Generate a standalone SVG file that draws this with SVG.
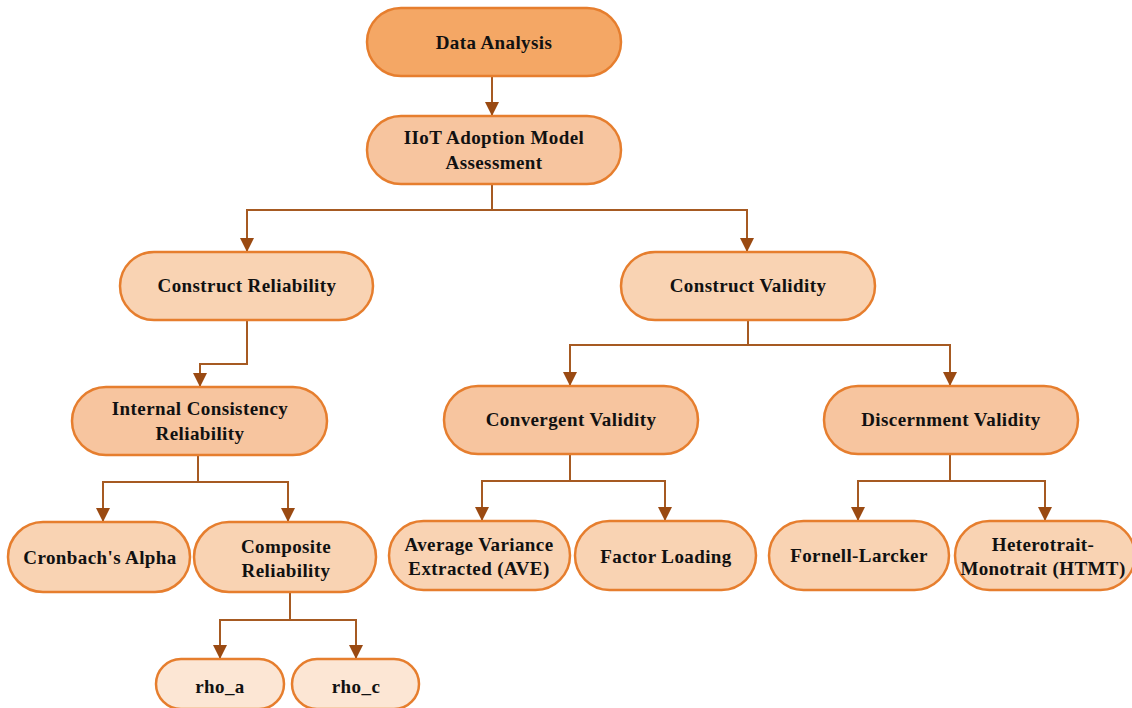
<svg xmlns="http://www.w3.org/2000/svg" width="1132" height="708" viewBox="0 0 1132 708">
<defs>
<marker id="ah" markerWidth="14" markerHeight="15" refX="13" refY="7" orient="auto" markerUnits="userSpaceOnUse" viewBox="0 0 14 14">
<path d="M0,0 L14,7 L0,14 z" fill="#9A4A12"/>
</marker>
<style>
.n rect{stroke:#E67E2E;stroke-width:2.5}
.l1 rect{fill:#F4A765}
.l2 rect{fill:#F7C59F}
.l3 rect{fill:#F9D3B3}
.l4 rect{fill:#FCE6D4}
.n text{font-family:"Liberation Serif","Times New Roman",serif;font-weight:bold;font-size:19px;letter-spacing:0.4px;fill:#111;text-anchor:middle}
.c path{fill:none;stroke:#A65A22;stroke-width:2}
</style>
</defs>
<rect width="1132" height="708" fill="#fff"/>
<g class="c">
<path d="M492,76 V115" marker-end="url(#ah)"/>
<path d="M492,184 V210 H247 V251" marker-end="url(#ah)"/>
<path d="M492,210 H747 V251" marker-end="url(#ah)"/>
<path d="M247,320 V364 H200 V386" marker-end="url(#ah)"/>
<path d="M198,455 V482 H103 V521" marker-end="url(#ah)"/>
<path d="M198,482 H288 V521" marker-end="url(#ah)"/>
<path d="M290,592 V620 H220 V658" marker-end="url(#ah)"/>
<path d="M290,620 H356 V658" marker-end="url(#ah)"/>
<path d="M748,320 V345 H570 V385" marker-end="url(#ah)"/>
<path d="M748,345 H950 V385" marker-end="url(#ah)"/>
<path d="M570,454 V481 H482 V520" marker-end="url(#ah)"/>
<path d="M570,481 H665 V520" marker-end="url(#ah)"/>
<path d="M950,454 V481 H858 V520" marker-end="url(#ah)"/>
<path d="M950,481 H1045 V520" marker-end="url(#ah)"/>
</g>
<g id="data-analysis" class="n l1"><rect x="367" y="8" width="254" height="68" rx="34"/><text x="494" y="49">Data Analysis</text></g>
<g id="iiot" class="n l2"><rect x="367" y="116" width="254" height="68" rx="34"/><text x="494" y="144">IIoT Adoption Model</text><text x="494" y="169">Assessment</text></g>
<g id="construct-reliability" class="n l3"><rect x="120" y="252" width="253" height="68" rx="34"/><text x="247" y="292">Construct Reliability</text></g>
<g id="construct-validity" class="n l3"><rect x="621" y="252" width="254" height="68" rx="34"/><text x="748" y="292">Construct Validity</text></g>
<g id="internal-consistency" class="n l2"><rect x="72" y="387" width="255" height="68" rx="34"/><text x="200" y="415">Internal Consistency</text><text x="200" y="440">Reliability</text></g>
<g id="convergent" class="n l2"><rect x="444" y="386" width="254" height="68" rx="34"/><text x="571" y="426">Convergent Validity</text></g>
<g id="discernment" class="n l2"><rect x="824" y="386" width="254" height="68" rx="34"/><text x="951" y="426">Discernment Validity</text></g>
<g id="cronbach" class="n l3"><rect x="8" y="522" width="182" height="70" rx="35"/><text x="100" y="564">Cronbach's Alpha</text></g>
<g id="composite" class="n l3"><rect x="194" y="522" width="182" height="70" rx="35"/><text x="286" y="553">Composite</text><text x="286" y="577">Reliability</text></g>
<g id="ave" class="n l3"><rect x="389" y="521" width="181" height="69" rx="34.5"/><text x="479" y="551">Average Variance</text><text x="479" y="575">Extracted (AVE)</text></g>
<g id="factor-loading" class="n l3"><rect x="575" y="521" width="181" height="69" rx="34.5"/><text x="666" y="563">Factor Loading</text></g>
<g id="fornell" class="n l3"><rect x="769" y="521" width="180" height="69" rx="34.5"/><text x="859" y="562">Fornell-Larcker</text></g>
<g id="htmt" class="n l3"><rect x="955" y="521" width="180" height="69" rx="34.5"/><text x="1043" y="551">Heterotrait-</text><text x="1043" y="575">Monotrait (HTMT)</text></g>
<g id="rho-a" class="n l4"><rect x="156" y="659" width="128" height="50" rx="25"/><text x="220" y="693">rho_a</text></g>
<g id="rho-c" class="n l4"><rect x="292" y="659" width="127" height="50" rx="25"/><text x="356" y="693">rho_c</text></g>
</svg>
